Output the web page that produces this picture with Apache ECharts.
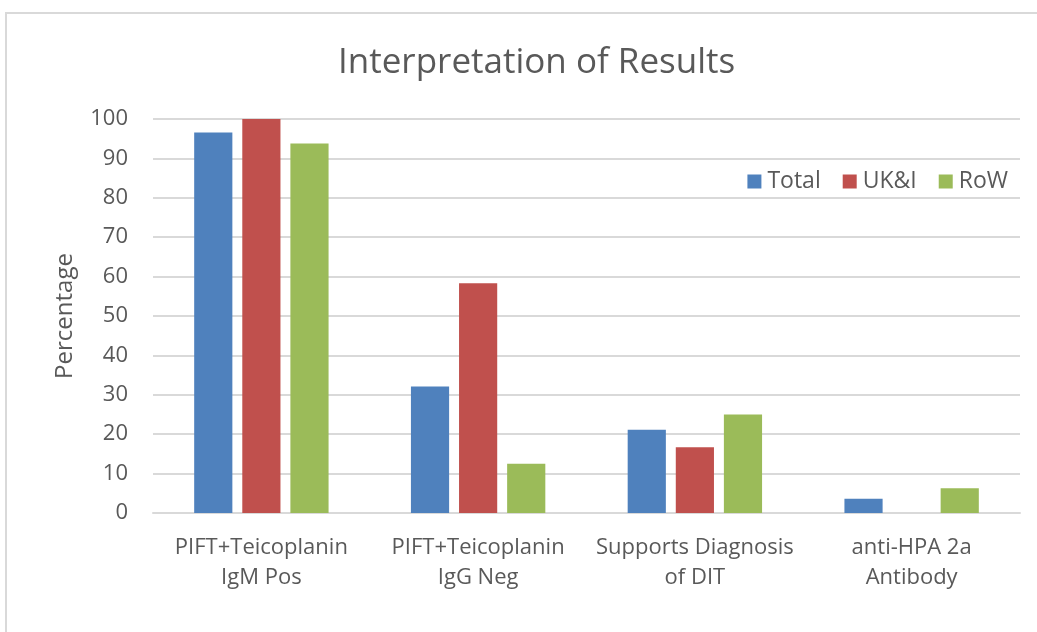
<!DOCTYPE html>
<html>
<head>
<meta charset="utf-8">
<script src="https://cdn.jsdelivr.net/npm/echarts@6/dist/echarts.min.js"></script>
<style>
  html, body { margin: 0; padding: 0; background: #fff; }
  #wrap { position: absolute; left: 5px; top: 12px; width: 1040px; height: 630px; border-left: 2px solid #d9d9d9; border-top: 2px solid #d9d9d9; box-sizing: border-box; }
  #chart { position: absolute; left: 0; top: 0; width: 1037px; height: 632px; }
</style>
</head>
<body>
<div id="wrap"></div>
<div id="chart"></div>
<script>
// Interpretation categories along the x axis
const categories = [
  'PIFT+Teicoplanin\nIgM Pos',
  'PIFT+Teicoplanin\nIgG Neg',
  'Supports Diagnosis\nof DIT',
  'anti-HPA 2a\nAntibody'
];
// Percentages per group
const totalValues = [96.6, 32.1, 21.1, 3.6];
const ukiValues = [100, 58.3, 16.7, 0];
const rowValues = [93.8, 12.5, 25.0, 6.3];
const seriesNames = ['Total', 'UK&I', 'RoW'];
const yTicks = { min: 0, max: 100, interval: 10 };

const font = 'Open Sans, Noto Sans, sans-serif';
const textColor = '#595959';

const chart = echarts.init(document.getElementById('chart'));
chart.setOption({
  animation: false,
  title: {
    text: 'Interpretation of Results',
    left: 333,
    top: 41,
    textStyle: { fontFamily: font, fontSize: 35, fontWeight: 'normal', color: textColor }
  },
  legend: {
    right: 24,
    top: 165,
    itemWidth: 14,
    itemHeight: 14,
    itemGap: 22,
    icon: 'rect',
    textStyle: { fontFamily: font, fontSize: 23, color: textColor, padding: [0, 0, 0, 1] }
  },
  grid: { left: 153, right: 17, top: 119, bottom: 119 },
  xAxis: {
    type: 'category',
    data: categories,
    axisLine: { lineStyle: { color: '#d9d9d9', width: 2 } },
    axisTick: { show: false },
    axisLabel: { interval: 0, fontFamily: font, fontSize: 22, color: textColor, lineHeight: 30, margin: 20 }
  },
  yAxis: {
    type: 'value',
    min: yTicks.min,
    max: yTicks.max,
    interval: yTicks.interval,
    name: 'Percentage',
    nameLocation: 'middle',
    nameGap: 76,
    nameTextStyle: { fontFamily: font, fontSize: 24, color: textColor },
    axisLine: { show: false },
    axisTick: { show: false },
    axisLabel: { fontFamily: font, fontSize: 22, color: textColor, margin: 25 },
    splitLine: { lineStyle: { color: '#d9d9d9', width: 2 } }
  },
  series: [
    { name: seriesNames[0], type: 'bar', data: totalValues, barGap: '26%', barCategoryGap: '38%', itemStyle: { color: '#4f81bd' } },
    { name: seriesNames[1], type: 'bar', data: ukiValues, itemStyle: { color: '#c0504d' } },
    { name: seriesNames[2], type: 'bar', data: rowValues, itemStyle: { color: '#9bbb59' } }
  ]
});
</script>
</body>
</html>
